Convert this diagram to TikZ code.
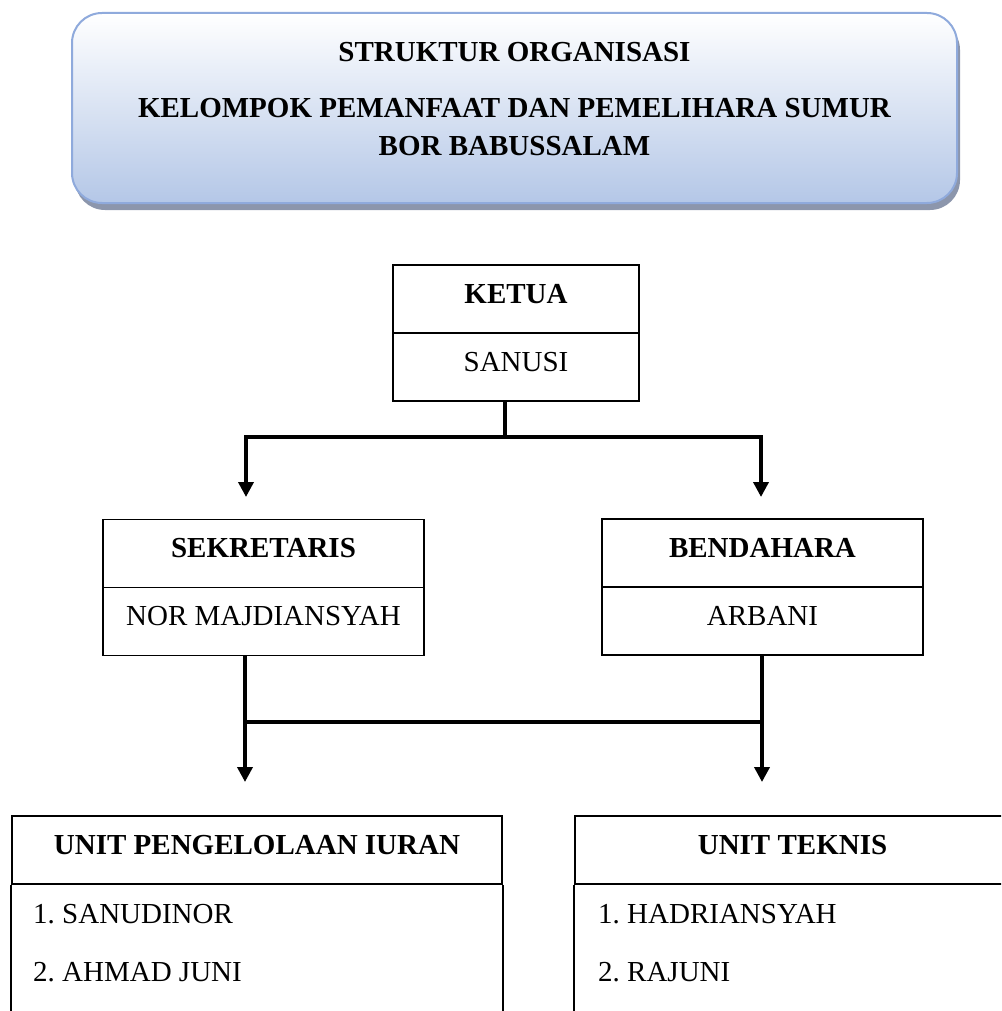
\documentclass[tikz,border=0pt]{standalone}
\usepackage{fontspec}
\setmainfont{Liberation Serif}
\usepackage{tikz}
\usetikzlibrary{arrows.meta,shadows}
\frenchspacing
\definecolor{judulgaris}{RGB}{143,170,220}
\definecolor{judulbawah}{RGB}{180,199,231}
\definecolor{judulbayang}{RGB}{140,150,172}
\tikzstyle{Judul}=[rectangle, rounded corners=30pt, draw=judulgaris, line width=2pt, top color=white, bottom color=judulbawah, drop shadow={shadow xshift=3pt, shadow yshift=-7pt, fill=judulbayang, opacity=1}, minimum width=885pt, minimum height=190pt]
\tikzstyle{Jabatan}=[rectangle, draw=black, line width=1.8pt, minimum height=68pt, text height=22pt, text depth=14pt, font=\bfseries\fontsize{29}{35}\selectfont]
\tikzstyle{Nama}=[Jabatan, font=\fontsize{29}{35}\selectfont]
\tikzstyle{Anggota}=[anchor=base west, inner sep=0pt, font=\fontsize{29}{35}\selectfont]
\tikzstyle{Garis}=[line width=3.6pt]
\tikzstyle{Panah}=[Garis, -{Triangle[width=15pt,length=15pt]}]

\begin{document}
\begin{tikzpicture}[x=1pt, y=-1pt]
    \useasboundingbox (0,0) rectangle (1001,1011);
    \clip (0,0) rectangle (1001,1011);
    \coordinate (dasar) at (0,1030);

    \node[Judul] (judul) at (514.5,108) {};
    \node[anchor=north, inner sep=0pt, align=center, font=\bfseries\fontsize{29}{38}\selectfont] (judulteks) at (514.5,42)
        {STRUKTUR ORGANISASI\\[18pt] KELOMPOK PEMANFAAT DAN PEMELIHARA SUMUR\\ BOR BABUSSALAM};

    \path
    (516,299) node[Jabatan, minimum width=246pt] (ketua) {KETUA}
    (516,367) node[Nama, minimum width=246pt] (sanusi) {SANUSI}
    (263.5,553.5) node[Jabatan, minimum width=321pt] (sekretaris) {SEKRETARIS}
    (263.5,621.5) node[Nama, minimum width=321pt] (nor) {NOR MAJDIANSYAH}
    (762.5,553) node[Jabatan, minimum width=321pt] (bendahara) {BENDAHARA}
    (762.5,621) node[Nama, minimum width=321pt] (arbani) {ARBANI}
    (257,850) node[Jabatan, minimum width=490pt] (iuran) {UNIT PENGELOLAAN IURAN}
    (792.5,850) node[Jabatan, minimum width=435pt] (teknis) {UNIT TEKNIS};

    % daftar anggota unit
    \draw[line width=1.8pt] (iuran.south west) -- (iuran.south west |- dasar);
    \draw[line width=1.8pt] (iuran.south east) -- (iuran.south east |- dasar);
    \draw[line width=1.8pt] (teknis.south west) -- (teknis.south west |- dasar);
    \node[Anggota] (sanudinor) at (33,923) {1. SANUDINOR};
    \node[Anggota] (ahmad) at (33,981) {2. AHMAD JUNI};
    \node[Anggota] (hadri) at (598,923) {1. HADRIANSYAH};
    \node[Anggota] (rajuni) at (598,981) {2. RAJUNI};

    % garis penghubung
    \coordinate (k) at (505,437);
    \coordinate (kiri) at (246,497);
    \coordinate (kanan) at (761,497);
    \draw[Garis] (sanusi.south -| k) -- (k);
    \draw[Panah] (k) -| (kiri);
    \draw[Panah] (k) -| (kanan);

    \coordinate (s) at (245,722);
    \coordinate (b) at (762,722);
    \coordinate (iuranpanah) at (245,782);
    \coordinate (teknispanah) at (762,782);
    \draw[Panah] (nor.south -| s) -- (iuranpanah);
    \draw[Panah] (arbani.south -| b) -- (teknispanah);
    \draw[Garis] (s) -- (b);
\end{tikzpicture}
\end{document}
